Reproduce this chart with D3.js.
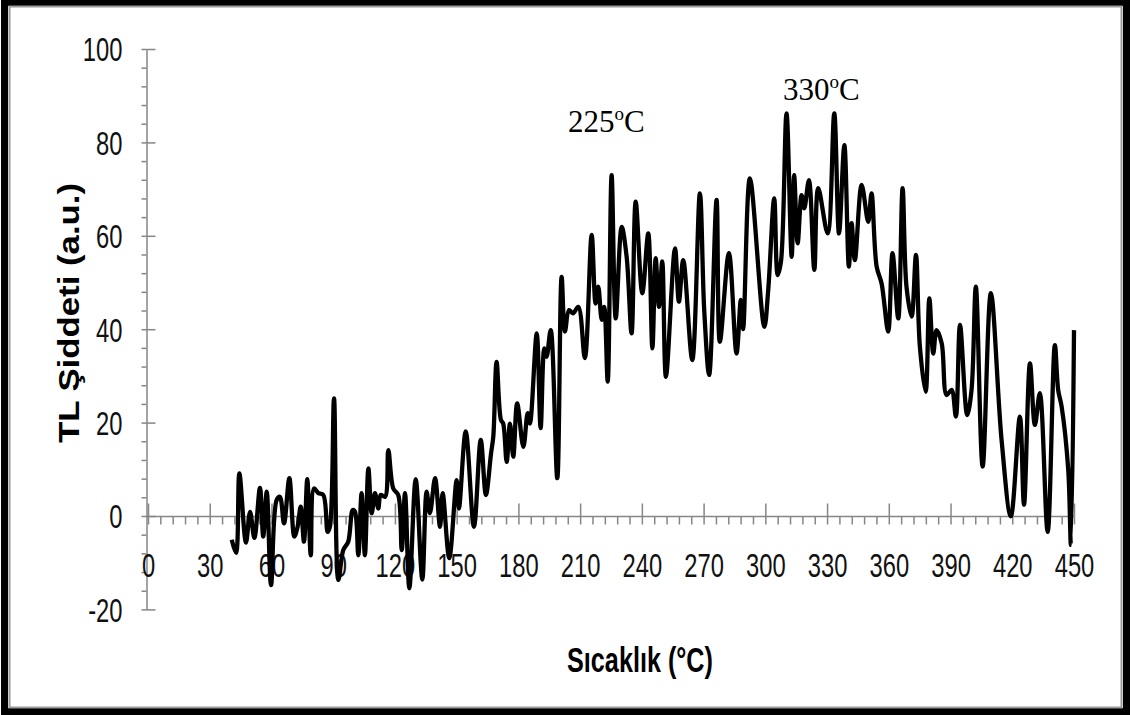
<!DOCTYPE html>
<html lang="tr">
<head>
<meta charset="utf-8">
<title>TL Şiddeti</title>
<style>
  body { margin: 0; background: #fff; }
  .axis path, .axis line { stroke: #868686; stroke-width: 1.5px; }
  .lbl { font-family: "Liberation Sans", Arial, sans-serif; fill: #111; }
</style>
</head>
<body>
<div id="chart"></div>
<script src="https://d3js.org/d3.v7.min.js"></script>
<script>
// temperatures (°C) and TL intensities
var temps = [40.7,42.8,44.4,47.6,49.6,51.7,54.4,56.0,57.7,59.8,62.5,64.1,66.1,68.7,71.1,72.7,74.2,75.8,77.4,79.1,
  80.7,82.8,85.2,87.3,88.4,90.4,92.5,94.9,97.3,99.5,100.6,102.2,103.8,105.4,107.1,108.7,110.3,111.9,113.1,115.2,
  116.8,119.2,121.6,123.3,124.9,127.0,130.1,133.3,135.4,137.0,139.5,141.9,143.2,146.4,150.0,151.1,154.4,158.4,161.7,164.2,
  166.7,167.8,169.4,171.5,172.6,174.3,175.9,177.5,179.4,182.4,184.5,185.6,188.9,190.8,192.6,193.7,195.7,198.9,201.0,202.6,
  204.6,206.5,209.1,212.3,215.6,217.5,218.8,220.5,221.7,223.4,225.3,227.3,230.2,232.6,235.0,237.0,240.2,243.1,245.1,246.7,
  248.3,249.9,251.7,256.1,258.0,260.1,264.5,268.2,270.3,272.7,276.3,277.9,282.3,286.0,288.1,289.2,292.5,299.5,301.4,304.3,
  306.0,307.6,310.3,312.8,314.0,315.7,317.6,318.9,321.2,323.8,325.7,330.3,333.5,335.8,338.4,340.6,341.9,343.5,346.8,350.0,
  351.6,354.1,356.5,359.7,361.8,364.6,366.7,368.6,371.1,373.2,375.1,377.9,379.7,381.6,383.2,385.7,388.1,390.5,392.6,394.6,
  398.1,400.2,402.3,405.6,409.6,414.8,419.3,423.7,425.7,428.6,431.0,433.4,437.2,440.7,442.3,444.0,447.2,448.5,450.0];
var intensity = [-5.1,-7.9,9.1,-5.7,0.9,-4.7,6.0,-4.4,5.2,-14.8,3.4,4.1,-1.6,8.1,-4.4,-2.3,2.0,-5.5,7.9,-8.4,
  5.9,4.9,4.5,-3.4,-2.3,25.2,-13.7,-7.3,-5.5,1.3,0.9,-8.4,4.9,-8.4,10.2,0.6,4.9,1.6,4.5,4.1,
  14.1,5.9,4.5,-7.3,4.9,-15.5,7.9,-13.6,5.2,0.6,8.1,-2.3,4.9,-9.0,7.7,1.6,18.1,-2.3,16.3,4.5,
  13.4,17.0,33.0,20.6,19.8,11.6,19.8,12.7,24.1,14.8,22.0,19.8,39.1,18.8,35.9,34.1,39.8,8.1,51.2,39.5,
  44.1,43.4,44.8,33.8,60.2,45.5,49.1,42.0,44.8,28.8,73.0,42.3,61.9,55.5,39.1,67.3,47.7,60.5,35.9,55.2,
  44.8,54.5,29.8,57.3,45.9,54.8,33.4,69.1,44.1,30.2,67.7,37.3,56.3,34.8,46.3,40.0,72.3,40.5,48.4,68.0,
  51.6,54.5,86.2,55.5,73.0,58.4,68.7,65.9,71.9,52.7,70.2,60.5,86.2,60.5,79.4,53.4,62.7,54.8,70.9,63.0,
  69.1,53.4,49.8,39.5,56.3,42.3,70.2,49.1,42.7,55.9,36.3,26.6,46.6,34.8,39.8,37.0,25.9,27.0,21.3,40.9,
  21.6,27.0,49.1,10.6,47.7,16.3,-0.1,21.3,2.4,32.7,19.5,26.3,-3.4,36.6,27.0,23.4,9.9,-6.2,39.8];

var xMajor = d3.range(0, 451, 30);
var xMinor = d3.range(0, 451, 6);
var yMajor = d3.range(-20, 101, 20);
var yMinor = d3.range(-20, 101, 4);
var peakLabels = ["225", "330"];

var width = 1131, height = 715;
var sx = 0.72; // the source picture is squeezed horizontally

var svg = d3.select("#chart").append("svg")
  .attr("width", width).attr("height", height);

svg.append("rect").attr("width", width).attr("height", height).attr("fill", "#fff");

// frame
svg.append("rect").attr("x", 4.5).attr("y", 2.5).attr("width", 1122).attr("height", 709)
  .attr("fill", "none").attr("stroke", "#000").attr("stroke-width", 7);
svg.append("rect").attr("x", 9.5).attr("y", 6.5).attr("width", 1112).attr("height", 701)
  .attr("fill", "none").attr("stroke", "#9a9a9a").attr("stroke-width", 2);

var x = d3.scaleLinear().domain([0, 450]).range([148, 1074]);
var y = d3.scaleLinear().domain([-20, 100]).range([609.4, 49]);

// y axis
svg.append("g").attr("class", "axis").attr("transform", "translate(146.5,0)")
  .call(d3.axisLeft(y).tickValues(yMinor).tickSize(5).tickSizeOuter(0).tickFormat(""));
svg.append("g").attr("class", "axis").attr("transform", "translate(146.5,0)")
  .call(d3.axisRight(y).tickValues(yMajor).tickSize(9).tickSizeOuter(0).tickFormat(""))
  .select(".domain").remove();
var yl = svg.append("g").attr("transform", "translate(146.5,0)")
  .call(d3.axisLeft(y).tickValues(yMajor).tickSize(0).tickFormat(function(d) { return String(d); }));
yl.select(".domain").remove();
yl.selectAll("text").attr("class", "lbl").attr("font-size", 33)
  .attr("x", -24 / sx).attr("dy", "0.36em").attr("transform", "scale(" + sx + ",1)");

// x axis on the zero line
var y0 = Math.round(y(0)) + 0.5;
svg.append("g").attr("class", "axis").attr("transform", "translate(0," + y0 + ")")
  .call(d3.axisBottom(x).tickValues(xMinor).tickSize(8).tickSizeOuter(0).tickFormat(""))
  .select(".domain").attr("d", "M146,0H1074");
svg.append("g").attr("class", "axis").attr("transform", "translate(0," + y0 + ")")
  .call(d3.axisTop(x).tickValues(xMajor).tickSize(13).tickSizeOuter(0).tickFormat(""))
  .select(".domain").remove();
var xl = svg.append("g").attr("transform", "translate(0," + y0 + ")")
  .call(d3.axisBottom(x).tickValues(xMajor).tickSize(0).tickFormat(function(d) { return String(d); }));
xl.select(".domain").remove();
xl.selectAll("text").attr("class", "lbl").attr("font-size", 33)
  .attr("y", 61).attr("dy", 0).attr("transform", "scale(" + sx + ",1)");

// curve
var line = d3.line()
  .x(function(d) { return x(d[0]); })
  .y(function(d) { return y(d[1]); })
  .curve(d3.curveCatmullRom.alpha(0.5));

svg.append("path")
  .datum(d3.zip(temps, intensity))
  .attr("d", line)
  .attr("fill", "none")
  .attr("stroke", "#000")
  .attr("stroke-width", 4.3)
  .attr("stroke-linejoin", "round");

// titles
svg.append("text")
  .attr("transform", "translate(640,672) scale(" + sx + ",1)")
  .attr("text-anchor", "middle")
  .attr("font-family", "Liberation Sans, Arial, sans-serif")
  .attr("font-weight", "bold").attr("font-size", 35)
  .text("Sıcaklık (°C)");

svg.append("text")
  .attr("transform", "translate(79,313) rotate(-90) scale(1.2,1)")
  .attr("text-anchor", "middle")
  .attr("font-family", "Liberation Sans, Arial, sans-serif")
  .attr("font-weight", "bold").attr("font-size", 29)
  .text("TL Şiddeti (a.u.)");

// peak annotations
var annPos = [[568, 132], [783, 100]];
peakLabels.forEach(function(p, i) {
  var t = svg.append("text")
    .attr("x", annPos[i][0]).attr("y", annPos[i][1])
    .attr("font-family", "Liberation Serif, Times New Roman, serif")
    .attr("font-size", 31).attr("fill", "#000");
  t.append("tspan").text(p);
  t.append("tspan").attr("font-size", 19).attr("dy", -12).text("o");
  t.append("tspan").attr("dy", 12).text("C");
});
</script>
</body>
</html>
